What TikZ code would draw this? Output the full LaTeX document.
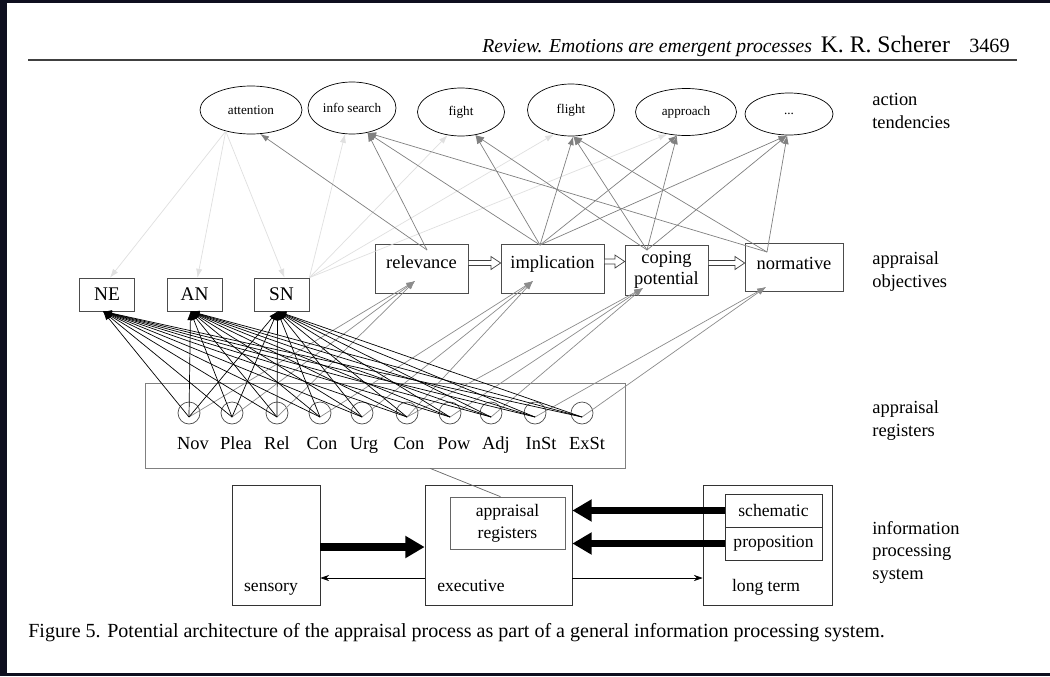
\documentclass[tikz,border=0pt]{standalone}
\usepackage{fontspec}
\setmainfont{Liberation Serif}
\usetikzlibrary{shapes.geometric,arrows.meta,calc}
\definecolor{frame}{HTML}{0E0F1F}
\newlength\pxl \setlength\pxl{0.02cm}
% open block arrow between two objective boxes
\newcommand{\hollowarrow}[2]{%
  \draw[black!75, fill=white] let \p1=(#1), \p2=(#2) in
    (\x1,\y1+1.4pt) -- (\x2-5.5pt,\y1+1.4pt) -- (\x2-5.5pt,\y1+3.7pt) -- (\x2,\y1)
    -- (\x2-5.5pt,\y1-3.7pt) -- (\x2-5.5pt,\y1-1.4pt) -- (\x1,\y1-1.4pt) -- cycle;}

\begin{document}
\begin{tikzpicture}[x=0.02cm, y=-0.02cm,
    tend/.style={draw, ellipse, inner sep=0pt, font=\fontsize{7.5}{9}\selectfont},
    objbox/.style={draw=black!70, inner sep=0pt, align=center, font=\fontsize{10.5}{12}\selectfont},
    normbox/.style={draw=black!70, inner sep=0pt, minimum width=55\pxl, minimum height=33\pxl, font=\fontsize{11}{12}\selectfont},
    reg/.style={draw=black!70, circle, minimum size=22\pxl, inner sep=0pt},
    sysbox/.style={draw=black!80, inner sep=0pt, font=\fontsize{10}{12.5}\selectfont},
    side/.style={anchor=base west, align=left, inner sep=0pt, font=\fontsize{10.5}{12.7}\selectfont},
    tendarrow/.style={draw=black!50, -{Latex[length=5pt,width=3.5pt]}},
    faint/.style={draw=black!12, -{Latex[length=5pt,width=3.5pt]}},
    regarrow/.style={draw=black, -{Latex[length=5pt,width=3.5pt]}},
    objarrow/.style={draw=black!45, -{Latex[length=5pt,width=3.5pt]}},
    bigarrow/.style={line width=4pt, -{Triangle[length=11pt,width=12pt]}},
    thinarrow/.style={-{Stealth[length=5pt,width=3.5pt]}}
]
    % Page
    \fill[frame] (0,0) rectangle (1050,676);
    \fill[white] (7,3) rectangle (1050,673);
    \useasboundingbox (0,0) rectangle (1050,676);

    % Running head
    \node[anchor=base east, inner sep=0pt, font=\fontsize{11.5}{13}\selectfont] (head) at (1010,52)
        {{\fontsize{11.2}{13}\selectfont\itshape Review. Emotions are emergent processes}\hspace{5pt}{\fontsize{13.5}{15}\selectfont K. R. Scherer}\hspace{11pt}3469};
    \draw[line width=0.8pt, black!75] (28,60) -- (1017,60);

    % Action tendencies
    \node[tend, minimum width=102\pxl, minimum height=48\pxl] (att) at (251,110) {attention};
    \node[tend, minimum width=88\pxl, minimum height=52\pxl] (info) at (352,108) {info search};
    \node[tend, minimum width=87\pxl, minimum height=48\pxl] (fight) at (461,112) {fight};
    \node[tend, minimum width=87\pxl, minimum height=52\pxl] (flight) at (571,110) {flight};
    \node[tend, minimum width=101\pxl, minimum height=47\pxl] (appr) at (686,112) {approach};
    \node[tend, minimum width=88\pxl, minimum height=42\pxl] (dots) at (789,114) {...};

    % Appraisal objectives
    \node[objbox, minimum width=93\pxl, minimum height=49\pxl, text height=7pt, text depth=7.5pt] (rel) at (421.5,268.5) {relevance};
    \node[objbox, minimum width=103\pxl, minimum height=49\pxl, text height=7pt, text depth=7.5pt] (imp) at (552.5,268.5) {implication};
    \node[objbox, minimum width=83\pxl, minimum height=50\pxl] (cop) at (666.5,270) {coping\\potential};
    \node[objbox, minimum width=98\pxl, minimum height=48\pxl, text height=7pt, text depth=4pt] (nor) at (794,267) {normative};
    \hollowarrow{[yshift=5.5\pxl]rel.east}{[yshift=5.5\pxl]imp.west}
    \hollowarrow{[yshift=7\pxl]imp.east}{[yshift=7\pxl]cop.west}
    \hollowarrow{[yshift=7\pxl]cop.east}{[yshift=7\pxl]nor.west}

    \node[normbox] (ne) at (107,294.5) {NE};
    \node[normbox] (an) at (194.5,294.5) {AN};
    \node[normbox] (sn) at (281.5,294.5) {SN};

    % Points where the arrows meet inside the objective boxes
    \coordinate (rel-out) at (427,250);
    \coordinate (imp-out) at (540,245);
    \coordinate (cop-out) at (647,250);
    \coordinate (nor-out) at (767,252);
    \coordinate (rel-in) at (415,281);
    \coordinate (imp-in) at (533,281);
    \coordinate (cop-in) at (643,288);
    \coordinate (nor-in) at (766,287);

    % Faint links between norm boxes and tendencies
    \foreach \b in {ne,an,sn}
        \draw[faint] (att.-140) -- ([xshift=3\pxl]\b.north);
    \foreach \t/\a in {info/-105,fight/-120,flight/-125,appr/-130}
        \draw[faint] (sn.north east) -- (\t.\a);

    % Objectives -> tendencies
    \foreach \o/\t/\a in {rel/att/-69, rel/info/-58,
        imp/info/-58, imp/fight/-58, imp/flight/-85, imp/appr/-111, imp/dots/-95,
        cop/fight/-58, cop/flight/-85, cop/appr/-111, cop/dots/-95,
        nor/info/-58, nor/flight/-85, nor/dots/-95}
        \draw[tendarrow] (\o-out) -- (\t.\a);

    % Appraisal registers
    \node[draw=black!50, minimum width=480\pxl, minimum height=85\pxl, inner sep=0pt] (regbox) at (385,425.5) {};
    \foreach \cx/\lx/\t [count=\i] in {189/193/Nov, 232/236/Plea, 277/277/Rel, 320/322/Con, 362/364/Urg,
        407/409/Con, 450/454/Pow, 491/496/Adj, 535/541/InSt, 582/587/ExSt} {
        \node[reg] (c\i) at (\cx,413) {};
        \node[anchor=base, inner sep=0pt, font=\fontsize{10.5}{12}\selectfont] (l\i) at (\lx,449) {\t};
    }
    \foreach \i/\o in {1/rel,2/rel,3/rel,4/imp,5/imp,6/imp,6/cop,7/cop,8/cop,9/nor,10/nor}
        \draw[objarrow] ([yshift=-4\pxl]c\i.center) -- (\o-in);
    \foreach \i in {1,...,10}
        \foreach \b in {ne,an,sn}
            \draw[regarrow] ([yshift=-4\pxl]c\i.center) -- ([xshift=-4\pxl]\b.south);

    % Information processing system
    \node[sysbox, minimum width=88\pxl, minimum height=120\pxl] (sens) at (276,545) {};
    \node[sysbox, minimum width=147\pxl, minimum height=120\pxl] (exec) at (498.5,545) {};
    \node[sysbox, minimum width=129\pxl, minimum height=120\pxl] (lterm) at (767.5,545) {};
    \node[sysbox, draw=black!60, minimum width=115\pxl, minimum height=52\pxl, align=center] (areg) at (507.5,523) {appraisal\\registers};
    \node[sysbox, minimum width=97\pxl, minimum height=33\pxl] (schem) at (773.5,510.5) {schematic};
    \node[sysbox, minimum width=97\pxl, minimum height=33\pxl] (prop) at (773.5,543.5) {proposition};
    \node[anchor=base, font=\fontsize{10}{12}\selectfont] (sens-t) at (271,591) {sensory};
    \node[anchor=base, font=\fontsize{10}{12}\selectfont] (exec-t) at (471,591) {executive};
    \node[anchor=base, font=\fontsize{10}{12}\selectfont] (lterm-t) at (766,591) {long term};

    \draw[bigarrow] ([yshift=-2\pxl]sens.east) -- ([yshift=-2\pxl]exec.west);
    \draw[bigarrow] (schem.west) -- (schem.west -| exec.east);
    \draw[bigarrow] (prop.west) -- (prop.west -| exec.east);
    \draw[thinarrow] ([yshift=-33\pxl]exec.west) -- ([yshift=-33\pxl]sens.east);
    \draw[thinarrow] ([yshift=-33\pxl]exec.east) -- ([yshift=-33\pxl]lterm.west);
    \draw[black!60] ([xshift=45\pxl]regbox.south) -- ([xshift=-7\pxl]areg.north);

    % Level labels
    \node[side] (lab1) at (872,128) {action\\tendencies};
    \node[side] (lab2) at (872,287) {appraisal\\objectives};
    \node[side] (lab3) at (872,436) {appraisal\\registers};
    \node[side] (lab4) at (872,579) {information\\processing\\system};

    % Caption
    \node[anchor=base west, inner sep=0pt, font=\fontsize{11.4}{13}\selectfont] (cap) at (28,637)
        {Figure 5. Potential architecture of the appraisal process as part of a general information processing system.};
\end{tikzpicture}
\end{document}
